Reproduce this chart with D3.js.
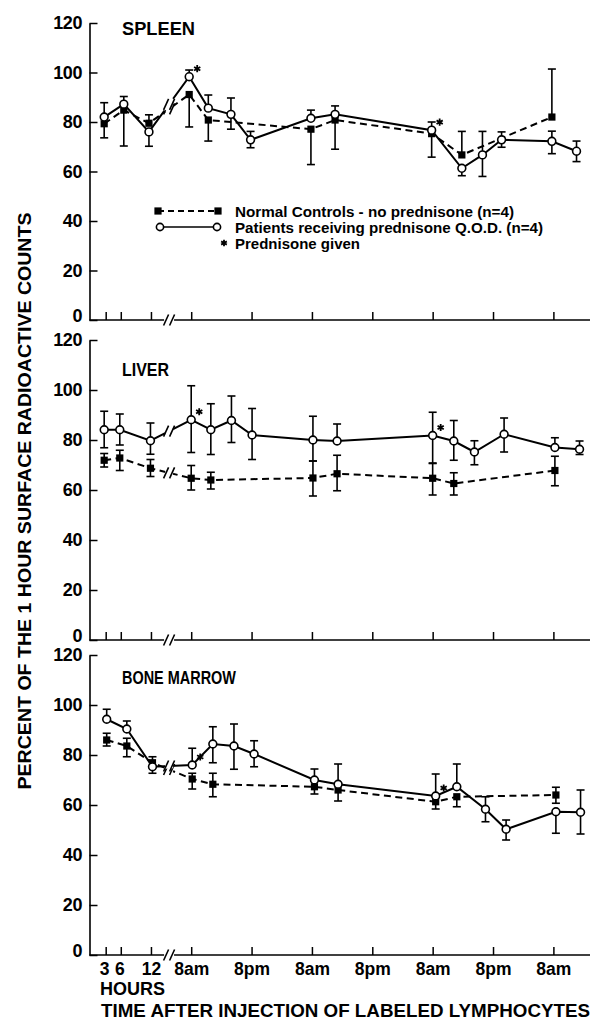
<!DOCTYPE html>
<html><head><meta charset="utf-8">
<script src="https://cdn.jsdelivr.net/npm/d3@7"></script>
<style>body{margin:0;background:#fff}</style>
</head><body>
<svg id="chart" width="595" height="1025"></svg>
<script>
// ---------- data ----------
const xTickHours  = [3, 6, 12, 20, 32, 44, 56, 68, 80, 92];
const xTickLabels = ["3", "6", "12", "8am", "8pm", "8am", "8pm", "8am", "8pm", "8am"];
const yTickValues = [0, 20, 40, 60, 80, 100, 120];
const panelNames  = ["SPLEEN", "LIVER", "BONE MARROW"];
const prednisoneGivenIdx = [3, 9];
const legendLabels = ["Normal Controls - no prednisone (n=4)", "Patients receiving prednisone Q.O.D. (n=4)", "Prednisone given"];
const xTitle = "TIME AFTER INJECTION OF LABELED LYMPHOCYTES";
const xSubTitle = "HOURS";
const yTitle = "PERCENT OF THE 1 HOUR SURFACE RADIOACTIVE COUNTS";

const spleenHours        = [2.7, 6.6, 11.6, 19.6, 23.4, 27.9, 31.8, 43.8, 48.6, 67.8, 73.8, 77.9, 81.7, 91.7, 96.6];
const spleenPatients     = [82.0, 87.2, 76.0, 98.3, 85.6, 83.1, 72.8, 81.5, 83.1, 76.7, 61.3, 66.7, 72.8, 72.2, 68.2];
const spleenPatientsUp   = [5.8, 3.1, 0, 2.7, 5.3, 6.6, 3.4, 3.3, 3.4, 3.3, 0, 9.5, 3.2, 4.1, 4.1];
const spleenPatientsDown = [0, 0, 5.8, 0, 0, 6.0, 3.2, 0, 0, 0, 3.0, 8.7, 3.0, 5.0, 4.2];
const spleenControls     = [79.3, 84.8, 79.5, 91.1, 80.8, null, null, 77.1, 80.8, 75.3, 66.7, null, null, 82.0, null];
const spleenControlsUp   = [0, 0, 3.4, 0, 0, 0, 0, 0, 0, 0, 9.5, 0, 0, 19.4, 0];
const spleenControlsDown = [5.7, 14.5, 0, 13.1, 8.5, 0, 0, 14.3, 11.8, 9.5, 0, 0, 0, 0, 0];

const liverHours        = [2.7, 5.8, 11.9, 20.0, 23.9, 28.0, 32.1, 44.2, 49.0, 68.0, 72.2, 76.3, 82.2, 92.3, 97.2];
const liverPatients     = [84.1, 84.1, 79.7, 88.1, 84.1, 87.8, 82.0, 80.0, 79.6, 81.8, 79.6, 75.2, 82.3, 77.0, 76.3];
const liverPatientsUp   = [7.4, 6.3, 7.1, 13.6, 10.4, 9.8, 10.6, 9.5, 6.8, 9.3, 8.2, 4.5, 6.5, 3.9, 3.3];
const liverPatientsDown = [7.2, 6.1, 5.4, 13.1, 9.9, 8.8, 9.8, 8.4, 0, 11.0, 7.7, 5.1, 7.1, 0, 2.1];
const liverControls     = [71.9, 72.8, 68.7, 64.7, 64.0, null, null, 64.8, 66.5, 64.7, 62.6, null, null, 67.8, null];
const liverControlsUp   = [2.7, 3.1, 3.5, 5.1, 3.1, 0, 0, 6.8, 7.4, 5.9, 4.3, 0, 0, 5.7, 0];
const liverControlsDown = [2.7, 5.0, 3.3, 4.7, 3.6, 0, 0, 7.2, 6.8, 6.7, 4.6, 0, 0, 6.1, 0];

const marrowHours        = [3.2, 7.2, 12.3, 20.2, 24.3, 28.5, 32.5, 44.5, 49.2, 68.6, 72.8, 78.5, 82.6, 92.5, 97.4];
const marrowPatients     = [94.3, 90.4, 75.3, 76.0, 84.4, 83.6, 80.4, 70.0, 68.3, 63.6, 67.3, 58.3, 50.3, 57.3, 57.1];
const marrowPatientsUp   = [4.0, 3.2, 0, 6.7, 6.9, 8.8, 5.3, 4.4, 8.1, 8.8, 9.1, 5.0, 3.7, 0, 8.9];
const marrowPatientsDown = [0, 0, 2.6, 0, 7.5, 9.3, 5.1, 0, 0, 0, 0, 5.0, 4.3, 8.6, 8.7];
const marrowControls     = [86.0, 83.6, 76.9, 70.4, 68.3, null, null, 67.3, 66.0, 61.3, 63.3, null, null, 64.0, null];
const marrowControlsUp   = [2.7, 3.1, 2.4, 2.3, 4.4, 0, 0, 0, 0, 0, 0, 0, 0, 3.1, 0];
const marrowControlsDown = [2.4, 4.3, 0, 4.0, 5.0, 0, 0, 2.9, 4.4, 2.9, 4.0, 0, 0, 3.3, 0];

// ---------- layout ----------
const W = 595, H = 1025;
const FONT = "'Liberation Sans', Arial, Helvetica, sans-serif";
const svg = d3.select("#chart");
svg.append("rect").attr("width", W).attr("height", H).attr("fill", "#fff");

const x = d3.scaleLinear().domain([0, 99]).range([90.6, 588.6]);
const axisX = 89.5;
const axisRight = 590;
const breakHour = 15.6;

const panels = [
  {name: panelNames[0], top: 23, bottom: 320, titleY: 35, titleLen: 73,
   hours: spleenHours, pat: spleenPatients, patUp: spleenPatientsUp, patDown: spleenPatientsDown,
   ctl: spleenControls, ctlUp: spleenControlsUp, ctlDown: spleenControlsDown},
  {name: panelNames[1], top: 340, bottom: 640, titleY: 376, titleLen: 47,
   hours: liverHours, pat: liverPatients, patUp: liverPatientsUp, patDown: liverPatientsDown,
   ctl: liverControls, ctlUp: liverControlsUp, ctlDown: liverControlsDown},
  {name: panelNames[2], top: 655, bottom: 955, titleY: 684, titleLen: 114,
   hours: marrowHours, pat: marrowPatients, patUp: marrowPatientsUp, patDown: marrowPatientsDown,
   ctl: marrowControls, ctlUp: marrowControlsUp, ctlDown: marrowControlsDown}
];

function breakMark(g, cx, cy, gapAlong) {
  if (gapAlong !== null) {
    g.append("line").attr("x1", cx - 4).attr("x2", cx + 4)
      .attr("y1", cy - gapAlong * 4).attr("y2", cy + gapAlong * 4)
      .attr("stroke", "#fff").attr("stroke-width", 5);
  }
  [-3, 3].forEach(dx => {
    g.append("line")
      .attr("x1", cx + dx - 2.5).attr("y1", cy + 5.5)
      .attr("x2", cx + dx + 2.5).attr("y2", cy - 5.5)
      .attr("stroke", "#000").attr("stroke-width", 1.6);
  });
}

panels.forEach((p, pi) => {
  const y = d3.scaleLinear().domain([0, 120]).range([p.bottom, p.top]);
  const g = svg.append("g");

  // Y axis
  const ya = g.append("g").attr("transform", `translate(${axisX},0)`)
    .call(d3.axisLeft(y).tickValues(yTickValues).tickSizeInner(-8).tickSizeOuter(0).tickPadding(7.5));
  ya.select(".domain").attr("stroke", "#000").attr("stroke-width", 1.6);
  ya.selectAll(".tick line").attr("stroke", "#000").attr("stroke-width", 1.5);
  ya.selectAll(".tick text").attr("font-family", FONT).attr("font-weight", "bold")
    .attr("font-size", 18).attr("fill", "#000").attr("letter-spacing", -0.4)
    .attr("dy", d => d === 0 ? "0.1em" : "0.32em");

  // X axis
  const isLast = pi === panels.length - 1;
  const xa = g.append("g").attr("transform", `translate(0,${p.bottom})`)
    .call(d3.axisBottom(x).tickValues(xTickHours).tickSizeInner(-8).tickSizeOuter(0).tickPadding(8)
      .tickFormat((d, i) => isLast ? xTickLabels[i] : ""));
  xa.select(".domain").remove();
  xa.selectAll(".tick line").attr("stroke", "#000").attr("stroke-width", 1.5);
  xa.selectAll(".tick text").attr("font-family", FONT).attr("font-weight", "bold")
    .attr("font-size", 17.5).attr("fill", "#000")
    .attr("dx", (d, i) => i < 2 ? -1.5 : 0);
  const bx = x(breakHour);
  g.append("line").attr("x1", axisX).attr("x2", bx - 5).attr("y1", p.bottom).attr("y2", p.bottom)
    .attr("stroke", "#000").attr("stroke-width", 1.6);
  g.append("line").attr("x1", bx + 5).attr("x2", axisRight).attr("y1", p.bottom).attr("y2", p.bottom)
    .attr("stroke", "#000").attr("stroke-width", 1.6);
  breakMark(g, bx, p.bottom, null);

  // Title
  g.append("text").attr("x", 122).attr("y", p.titleY).text(p.name)
    .attr("font-family", FONT).attr("font-weight", "bold").attr("font-size", 18)
    .attr("textLength", p.titleLen).attr("lengthAdjust", "spacingAndGlyphs");

  const patPts = p.hours.map((h, i) => ({h, v: p.pat[i], up: p.patUp[i], dn: p.patDown[i], i})).filter(d => d.v != null);
  const ctlPts = p.hours.map((h, i) => ({h, v: p.ctl[i], up: p.ctlUp[i], dn: p.ctlDown[i], i})).filter(d => d.v != null);

  // error bars
  const eg = g.append("g").attr("stroke", "#000").attr("stroke-width", 1.6);
  [...ctlPts, ...patPts].forEach(d => {
    const cx = x(d.h);
    [[d.up, 1], [d.dn, -1]].forEach(([e, s]) => {
      if (!e) return;
      const y0 = y(d.v), y1 = y(d.v + s * e);
      eg.append("line").attr("x1", cx).attr("x2", cx).attr("y1", y0).attr("y2", y1);
      eg.append("line").attr("x1", cx - 4).attr("x2", cx + 4).attr("y1", y1).attr("y2", y1);
    });
  });

  // lines
  const line = d3.line().x(d => x(d.h)).y(d => y(d.v));
  g.append("path").datum(ctlPts).attr("d", line).attr("fill", "none")
    .attr("stroke", "#000").attr("stroke-width", 2).attr("stroke-dasharray", "7,4.5");
  g.append("path").datum(patPts).attr("d", line).attr("fill", "none")
    .attr("stroke", "#000").attr("stroke-width", 2);

  // break marks on data lines
  [ctlPts, patPts].forEach(pts => {
    for (let k = 0; k < pts.length - 1; k++) {
      const a = pts[k], b = pts[k + 1];
      if (a.h < breakHour && b.h > breakHour) {
        const t = (breakHour - a.h) / (b.h - a.h);
        const cy = y(a.v + t * (b.v - a.v));
        const slope = (y(b.v) - y(a.v)) / (x(b.h) - x(a.h));
        breakMark(g, bx, cy, slope);
      }
    }
  });

  // markers
  g.selectAll(".sq").data(ctlPts).join("rect")
    .attr("x", d => x(d.h) - 3.6).attr("y", d => y(d.v) - 3.6)
    .attr("width", 7.2).attr("height", 7.2).attr("fill", "#000");
  g.selectAll(".ci").data(patPts).join("circle")
    .attr("cx", d => x(d.h)).attr("cy", d => y(d.v)).attr("r", 3.9)
    .attr("fill", "#fff").attr("stroke", "#000").attr("stroke-width", 1.6);

  // asterisks (prednisone given)
  prednisoneGivenIdx.forEach(i => {
    g.append("path").attr("d", d3.symbol(d3.symbolAsterisk, 36)())
      .attr("transform", `translate(${x(p.hours[i]) + 8},${y(p.pat[i]) - 8})`)
      .attr("stroke", "#000").attr("stroke-width", 1.8).attr("fill", "none");
  });

  // legend in first panel
  if (pi === 0) {
    const lg = g.append("g");
    const rows = [211, 227, 243];
    const lens = [279, 308, 125];
    lg.append("line").attr("x1", 158).attr("x2", 218).attr("y1", rows[0]).attr("y2", rows[0])
      .attr("stroke", "#000").attr("stroke-width", 2).attr("stroke-dasharray", "6,4");
    [158, 218].forEach(cx => lg.append("rect").attr("x", cx - 3.6).attr("y", rows[0] - 3.6)
      .attr("width", 7.2).attr("height", 7.2).attr("fill", "#000"));
    lg.append("line").attr("x1", 160).attr("x2", 217).attr("y1", rows[1]).attr("y2", rows[1])
      .attr("stroke", "#000").attr("stroke-width", 1.6);
    [160, 217].forEach(cx => lg.append("circle").attr("cx", cx).attr("cy", rows[1]).attr("r", 3.6)
      .attr("fill", "#fff").attr("stroke", "#000").attr("stroke-width", 1.6));
    lg.append("path").attr("d", d3.symbol(d3.symbolAsterisk, 30)())
      .attr("transform", `translate(224,${rows[2]})`)
      .attr("stroke", "#000").attr("stroke-width", 1.8).attr("fill", "none");
    legendLabels.forEach((t, i) => {
      lg.append("text").attr("x", 235).attr("y", rows[i] + 5.5).text(t)
        .attr("font-family", FONT).attr("font-weight", "bold").attr("font-size", 15.5)
        .attr("textLength", lens[i]).attr("lengthAdjust", "spacingAndGlyphs");
    });
  }
});

// axis titles
svg.append("text").attr("x", 100).attr("y", 995).text(xSubTitle)
  .attr("font-family", FONT).attr("font-weight", "bold").attr("font-size", 18)
  .attr("textLength", 65).attr("lengthAdjust", "spacingAndGlyphs");
svg.append("text").attr("x", 101).attr("y", 1017).text(xTitle)
  .attr("font-family", FONT).attr("font-weight", "bold").attr("font-size", 18)
  .attr("textLength", 489).attr("lengthAdjust", "spacingAndGlyphs");
svg.append("text").attr("transform", "translate(31,501) rotate(-90)")
  .attr("text-anchor", "middle").text(yTitle)
  .attr("font-family", FONT).attr("font-weight", "bold").attr("font-size", 19)
  .attr("textLength", 577).attr("lengthAdjust", "spacingAndGlyphs");
</script>
</body></html>
